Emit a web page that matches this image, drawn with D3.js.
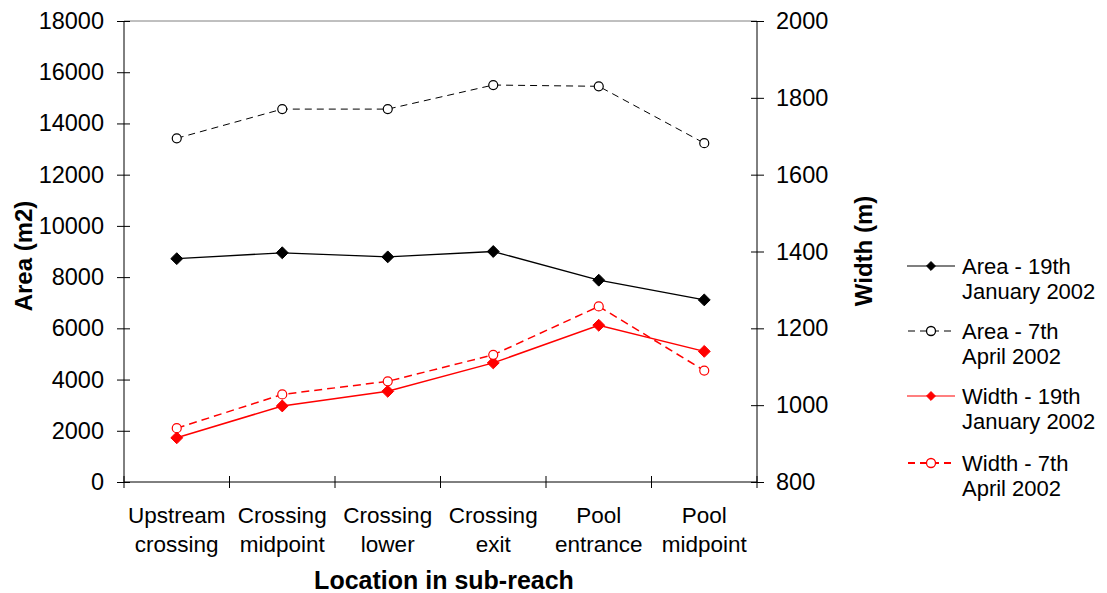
<!DOCTYPE html>
<html><head><meta charset="utf-8">
<script src="https://cdn.jsdelivr.net/npm/d3@7"></script>
<style>
html,body{margin:0;padding:0;background:#fff;}
svg{display:block;font-family:"Liberation Sans",Arial,sans-serif;}
</style></head>
<body><svg id="c" width="1107" height="593"></svg>
<script>
const categories = [["Upstream","crossing"],["Crossing","midpoint"],["Crossing","lower"],["Crossing","exit"],["Pool","entrance"],["Pool","midpoint"]];
const areaJan = [8720, 8950, 8790, 9000, 7880, 7110];
const areaApr = [13420, 14560, 14560, 15500, 15450, 13230];
const widthJan = [915, 998, 1036, 1110, 1208, 1140];
const widthApr = [940, 1028, 1062, 1131, 1257, 1090];
const leftTicks = [0,2000,4000,6000,8000,10000,12000,14000,16000,18000];
const rightTicks = [800,1000,1200,1400,1600,1800,2000];
const legendLabels = [["Area - 19th","January 2002"],["Area - 7th","April 2002"],["Width - 19th","January 2002"],["Width - 7th","April 2002"]];

const svg = d3.select("#c");
const L=124, R=757, T=21, B=482;
const x = d3.scaleBand().domain(d3.range(categories.length)).range([L,R]).padding(0);
const xc = i => x(i) + x.bandwidth()/2;
const yL = d3.scaleLinear().domain([0,18000]).range([B,T]);
const yR = d3.scaleLinear().domain([800,2000]).range([B,T]);

// top border
svg.append("line").attr("x1",L).attr("x2",R).attr("y1",T).attr("y2",T).attr("stroke","#808080").attr("stroke-width",1);

const fs = 23.5;
// left axis
const gL = svg.append("g").attr("transform",`translate(${L},0)`)
  .call(d3.axisLeft(yL).tickValues(leftTicks).tickFormat(d3.format("d")).tickSize(7).tickPadding(13));
gL.selectAll(".tick line").attr("x1",6).attr("x2",-7);
gL.select(".domain").attr("d",`M0,${T}V${B}`);
gL.selectAll("text").style("font-size",fs+"px").attr("fill","#000");
gL.selectAll("path,line").attr("stroke","#000");

// right axis
const gR = svg.append("g").attr("transform",`translate(${R},0)`)
  .call(d3.axisRight(yR).tickValues(rightTicks).tickFormat(d3.format("d")).tickSize(7).tickPadding(12));
gR.selectAll(".tick line").attr("x1",7).attr("x2",-6);
gR.select(".domain").attr("d",`M0,${T}V${B}`);
gR.selectAll("text").style("font-size",fs+"px").attr("fill","#000");
gR.selectAll("path,line").attr("stroke","#000");

// bottom axis
const gB = svg.append("g").attr("transform",`translate(0,${B})`);
gB.append("line").attr("x1",L).attr("x2",R).attr("stroke","#000");
d3.range(categories.length+1).forEach(i=>{
  const xx = i<categories.length ? x(i) : R;
  gB.append("line").attr("x1",xx).attr("x2",xx).attr("y1",-6).attr("y2",6).attr("stroke","#000");
});
categories.forEach((c,i)=>{
  c.forEach((t,j)=>{
    gB.append("text").attr("x",xc(i)).attr("y",41+j*29).attr("text-anchor","middle")
      .style("font-size","22.5px").text(t);
  });
});

// axis titles
svg.append("text").attr("transform","translate(32,256) rotate(-90)").attr("text-anchor","middle")
  .style("font-size","24px").style("font-weight","bold").text("Area (m2)");
svg.append("text").attr("transform","translate(872,251) rotate(-90)").attr("text-anchor","middle")
  .style("font-size","24px").style("font-weight","bold").text("Width (m)");
svg.append("text").attr("x",444).attr("y",589).attr("text-anchor","middle")
  .style("font-size","25px").style("font-weight","bold").text("Location in sub-reach");

const series = [
  {data:areaJan, y:yL, color:"#000", dash:null, sw:1.3, marker:"diamond"},
  {data:areaApr, y:yL, color:"#000", dash:"7,5", sw:1, marker:"circle"},
  {data:widthJan, y:yR, color:"#ff0000", dash:null, sw:1.5, marker:"diamond"},
  {data:widthApr, y:yR, color:"#ff0000", dash:"8,5", sw:1.5, marker:"circle"}
];
const diamond = d3.symbol().type(d3.symbolDiamond2);
series.forEach(s=>{
  const line = d3.line().x((d,i)=>xc(i)).y(d=>s.y(d));
  svg.append("path").datum(s.data).attr("d",line).attr("fill","none").attr("stroke",s.color)
    .attr("stroke-width",s.sw).attr("stroke-dasharray",s.dash);
  s.data.forEach((d,i)=>{
    if(s.marker==="diamond"){
      svg.append("path").attr("d",diamond.size(90)()).attr("transform",`translate(${xc(i)},${s.y(d)})`)
        .attr("fill",s.color).attr("stroke",s.color).attr("stroke-width",1);
    } else {
      svg.append("circle").attr("cx",xc(i)).attr("cy",s.y(d)).attr("r",4.5)
        .attr("fill","#fff").attr("stroke",s.color).attr("stroke-width",1.2);
    }
  });
});

// legend
const legY = [266,331,396,463];
series.forEach((s,k)=>{
  const g = svg.append("g").attr("transform",`translate(0,${legY[k]})`);
  g.append("line").attr("x1",907).attr("x2",955).attr("stroke",s.color)
    .attr("stroke-width",k===3?2:1.2).attr("stroke-dasharray",s.dash?"7,5":null)
    .attr("stroke-dashoffset",s.dash?-1:0);
  if(s.marker==="diamond"){
    g.append("path").attr("d",diamond.size(50)()).attr("transform","translate(931,0)").attr("fill",s.color).attr("stroke",s.color);
  } else {
    g.append("circle").attr("cx",931).attr("cy",0).attr("r",4.5).attr("fill","#fff").attr("stroke",s.color).attr("stroke-width",1.3);
  }
  legendLabels[k].forEach((t,j)=>{
    g.append("text").attr("x",962).attr("y",8+j*25).style("font-size","22px").text(t);
  });
});
</script></body></html>
